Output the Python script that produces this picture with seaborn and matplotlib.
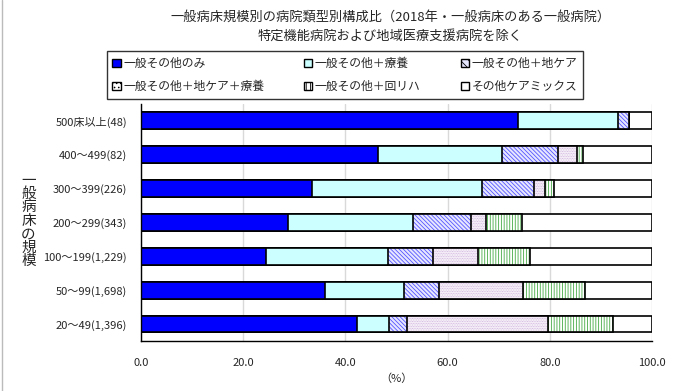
import numpy as np
import pandas as pd
import seaborn as sns
import matplotlib.pyplot as plt
from matplotlib.patches import Patch
from matplotlib.lines import Line2D

sizes = ["500床以上(48)", "400～499(82)", "300～399(226)", "200～299(343)",
         "100～199(1,229)", "50～99(1,698)", "20～49(1,396)"]
types = ["一般その他のみ", "一般その他＋療養", "一般その他＋地ケア",
         "一般その他＋地ケア＋療養", "一般その他＋回リハ", "その他ケアミックス"]
only_general = [73.8, 46.3, 33.4, 28.8, 24.4, 36.0, 42.3]
plus_ryoyo = [19.5, 24.3, 33.4, 24.5, 23.9, 15.5, 6.2]
plus_chicare = [2.2, 11.0, 10.1, 11.2, 8.9, 6.9, 3.6]
plus_chicare_ryoyo = [0.0, 3.7, 2.1, 3.0, 8.8, 16.3, 27.6]
plus_kairiha = [0.0, 1.2, 1.9, 7.0, 10.2, 12.1, 12.6]
other_mix = [4.5, 13.5, 19.1, 25.5, 23.8, 13.2, 7.7]

sns.set_style("white")
plt.rcParams['font.family'] = ['Noto Sans CJK JP', 'DejaVu Sans']
plt.rcParams['hatch.linewidth'] = 0.6

# 各系列のスタイル（塗り, ハッチ, ハッチ色）
styles = [
    ("#0000FF", "", "black"),
    ("#CCFFFF", "", "black"),
    ("#E6E6FF", "\\\\\\\\\\\\\\\\", "#5555FF"),
    ("white", "..........", "#C8A8D8"),
    ("white", "||||||", "#44AA44"),
    ("white", "", "black"),
]

df = pd.DataFrame({"size": sizes})
series = [only_general, plus_ryoyo, plus_chicare, plus_chicare_ryoyo, plus_kairiha, other_mix]
cum = np.cumsum(np.array(series), axis=0)

fig = plt.figure(figsize=(6.8, 3.91), dpi=100)
ax = fig.add_axes([0.207, 0.128, 0.752, 0.606])
ax.grid(axis='x', color='#D9D9D9', linewidth=1)
ax.set_axisbelow(True)

# 累積値を後ろから重ねて積み上げ棒を描く
for i in range(len(series) - 1, -1, -1):
    df["val"] = cum[i]
    n_before = len(ax.patches)
    fc, hatch, hc = styles[i]
    sns.barplot(data=df, x="val", y="size", orient="h", color=fc, width=0.5,
                saturation=1, ax=ax, zorder=2 + (len(series) - i) * 0.01)
    for p in ax.patches[n_before:]:
        p.set_facecolor(fc)
        p.set_hatch(hatch)
        p.set_edgecolor(hc)
        p.set_linewidth(0)
        # 枠線は別に重ねる
        x0, y0 = p.get_x(), p.get_y()
        ax.add_patch(plt.Rectangle((x0, y0), p.get_width(), p.get_height(),
                                   fill=False, edgecolor='black', linewidth=1.2,
                                   zorder=p.get_zorder() + 0.001))

ax.set_xlim(0, 100)
ax.set_ylim(6.4, -0.5)
ax.set_xticks([0, 20, 40, 60, 80, 100])
ax.set_xticklabels(["0.0", "20.0", "40.0", "60.0", "80.0", "100.0"], fontsize=8)
ax.set_yticks(range(7))
ax.set_yticklabels(sizes, fontsize=8)
ax.set_yticks(np.arange(-0.5, 7, 1), minor=True)
ax.tick_params(axis='y', which='major', length=0, pad=10)
ax.tick_params(axis='y', which='minor', direction='in', length=4, width=1, color='black')
ax.tick_params(axis='x', direction='in', length=4, width=1, color='black', pad=12)
ax.set_xlabel("（%）", fontsize=8, labelpad=4)
ax.set_ylabel("")
for s in ["top", "right"]:
    ax.spines[s].set_visible(False)
for s in ["left", "bottom"]:
    ax.spines[s].set_color('black')
    ax.spines[s].set_linewidth(1)

fig.text(0.042, 0.435, "\n".join("一般病床の規模"), fontsize=10.5, ha='center', va='center',
         linespacing=0.95)

fig.text(0.574, 0.957, "一般病床規模別の病院類型別構成比（2018年・一般病床のある一般病院）",
         fontsize=9.5, ha='center', va='center')
fig.text(0.574, 0.908, "特定機能病院および地域医療支援病院を除く",
         fontsize=9.5, ha='center', va='center')

handles = []
for (fc, hatch, hc), name in zip(styles, types):
    handles.append(Patch(facecolor=fc, hatch=hatch[:4], edgecolor='black', linewidth=1, label=name))
order = [0, 3, 1, 4, 2, 5]
leg = fig.legend([handles[k] for k in order], [types[k] for k in order],
                 ncol=3, loc='center', bbox_to_anchor=(0.507, 0.808), fontsize=8.5,
                 frameon=True, fancybox=False, edgecolor='black',
                 handlelength=0.7, handleheight=0.7, handletextpad=0.2,
                 columnspacing=3.4, labelspacing=0.8, borderpad=0.5)
leg.get_frame().set_linewidth(1)

fig.add_artist(Line2D([0.003, 0.003], [0, 1], color='#BBBBBB', linewidth=1))

fig.savefig("out.png", dpi=100)
